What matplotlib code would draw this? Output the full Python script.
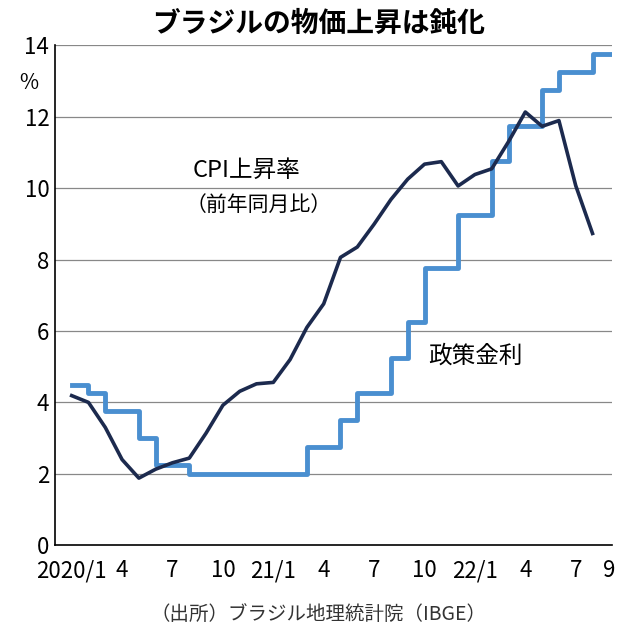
import matplotlib
matplotlib.use("Agg")
import matplotlib.pyplot as plt
import numpy as np

plt.rcParams["font.family"] = "Noto Sans CJK JP"

cpi = [4.19, 4.0, 3.3, 2.4, 1.88, 2.13, 2.31, 2.44, 3.14, 3.92, 4.31, 4.52,
       4.56, 5.2, 6.1, 6.76, 8.06, 8.35, 8.99, 9.68, 10.25, 10.67, 10.74, 10.06,
       10.38, 10.54, 11.3, 12.13, 11.73, 11.89, 10.07, 8.73]
selic = [4.5, 4.25, 3.75, 3.75, 3.0, 2.25, 2.25, 2.0, 2.0, 2.0, 2.0, 2.0, 2.0, 2.0,
         2.75, 2.75, 3.5, 4.25, 4.25, 5.25, 6.25, 7.75, 7.75, 9.25, 9.25, 10.75,
         11.75, 11.75, 12.75, 13.25, 13.25, 13.75, 13.75]
tick_pos = [0, 3, 6, 9, 12, 15, 18, 21, 24, 27, 30, 32]
tick_labels = ["2020/1", "4", "7", "10", "21/1", "4", "7", "10", "22/1", "4", "7", "9"]

fig = plt.figure(figsize=(6.38, 6.37), dpi=100)
ax = fig.add_axes([0.086, 0.144, 0.873, 0.785])

for y in range(2, 15, 2):
    ax.axhline(y, color="#888888", lw=0.9, zorder=0)

xs = list(range(len(selic))) + [32.15]
ax.step(xs, selic + [selic[-1]], where="post", color="#4a8fd0", lw=3.5, zorder=2)
ax.plot(range(len(cpi)), cpi, color="#1c2a4e", lw=2.6, zorder=3)

ax.set_xlim(-1, 32.15)
ax.set_ylim(0, 14)
ax.set_yticks(range(0, 15, 2))
ax.set_yticklabels([str(v) for v in range(0, 15, 2)], fontsize=16)
ax.set_xticks(tick_pos)
ax.set_xticklabels(tick_labels, fontsize=16)
ax.tick_params(axis="both", length=0, pad=4)
ax.tick_params(axis="x", pad=10)
for s in ["top", "right"]:
    ax.spines[s].set_visible(False)
ax.spines["left"].set_linewidth(1.2)
ax.spines["bottom"].set_linewidth(1.2)

fig.text(0.03, 0.86, "%", fontsize=15, ha="left")
ax.text(7.2, 10.3, "CPI上昇率", fontsize=17, ha="left")
ax.text(6.8, 9.35, "（前年同月比）", fontsize=15, ha="left")
ax.text(21.2, 5.1, "政策金利", fontsize=17, ha="left")
fig.text(0.5, 0.962, "ブラジルの物価上昇は鈍化", fontsize=20, fontweight="bold", ha="center", va="center")
fig.text(0.5, 0.035, "（出所）ブラジル地理統計院（IBGE）", fontsize=14, ha="center", va="center", color="#333333")

fig.savefig("out.png", dpi=100)
